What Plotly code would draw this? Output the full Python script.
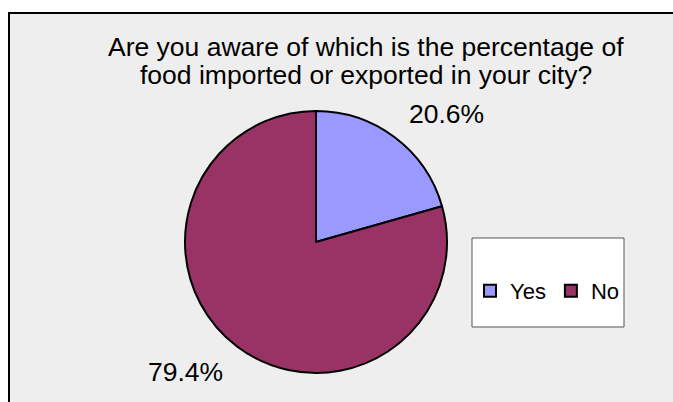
import plotly.graph_objects as go

# Survey answers (share of respondents, %)
labels = ["Yes", "No"]
shares = [20.6, 79.4]
colors = ["#9999FF", "#993366"]
title_lines = [
    "Are you aware of which is the percentage of",
    "food imported or exported in your city?",
]

W, H = 673, 402
FONT = "Liberation Sans, Arial, sans-serif"


def fx(x):
    return x / W


def fy(y):
    return 1 - y / H


fig = go.Figure(
    go.Pie(
        labels=labels,
        values=shares,
        sort=False,
        direction="clockwise",
        rotation=0,
        textinfo="none",
        hoverinfo="label+percent",
        marker=dict(colors=colors, line=dict(color="black", width=2)),
        domain=dict(x=[fx(185), fx(447)], y=[fy(373), fy(111)]),
    )
)

# Grey chart panel with a dark frame on the top and left
shapes = [
    dict(type="rect", xref="paper", yref="paper",
         x0=fx(9), x1=fx(W + 20), y0=fy(H + 20), y1=fy(13),
         fillcolor="#eeeeee", line=dict(color="black", width=2), layer="below"),
    # legend frame
    dict(type="rect", xref="paper", yref="paper",
         x0=fx(472), x1=fx(624), y0=fy(327), y1=fy(238),
         fillcolor="white", line=dict(color="#555555", width=1), layer="below"),
]

annotations = []
for i, line in enumerate(title_lines):
    annotations.append(dict(
        x=fx(366.5), y=fy(47 + 28 * i), xref="paper", yref="paper",
        text=line, showarrow=False, xanchor="center", yanchor="middle",
        font=dict(family=FONT, size=26.5, color="black"),
    ))

# Percentage labels beside the slices
label_pos = [(446, 114.5), (185, 372)]
for v, (lx, ly) in zip(shares, label_pos):
    annotations.append(dict(
        x=fx(lx), y=fy(ly), xref="paper", yref="paper",
        text=f"{v:.1f}%", showarrow=False, xanchor="center", yanchor="middle",
        font=dict(family=FONT, size=26.5, color="black"),
    ))

fig.update_layout(
    width=W, height=H,
    margin=dict(l=0, r=0, t=0, b=0),
    paper_bgcolor="white",
    plot_bgcolor="white",
    shapes=shapes,
    annotations=annotations,
    showlegend=True,
    legend=dict(
        orientation="h",
        x=fx(470), y=fy(291), xanchor="left", yanchor="middle",
        bgcolor="rgba(0,0,0,0)",
        font=dict(family=FONT, size=22, color="black"),
        itemwidth=30,
    ),
)

fig.write_html("out.html")
